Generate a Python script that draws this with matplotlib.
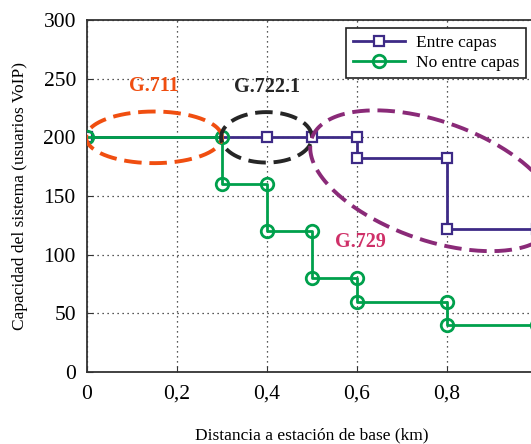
import numpy as np
import matplotlib
matplotlib.use('Agg')
import matplotlib.pyplot as plt

plt.rcParams['font.family'] = ['Liberation Serif', 'DejaVu Serif']

# Capacidad en función de la distancia (km)
dist_entre = [0.0, 0.4, 0.5, 0.6, 0.6, 0.8, 0.8, 1.0]
cap_entre = [200, 200, 200, 200, 182, 182, 122, 122]

dist_no_entre = [0.0, 0.3, 0.3, 0.4, 0.4, 0.5, 0.5, 0.6, 0.6, 0.8, 0.8, 1.0]
cap_no_entre = [200, 200, 160, 160, 120, 120, 80, 80, 60, 60, 40, 40]

x_ticks = [0, 0.2, 0.4, 0.6, 0.8]
x_ticklabels = ['0', '0,2', '0,4', '0,6', '0,8']
y_ticks = [0, 50, 100, 150, 200, 250, 300]

# Zonas de cada códec: (nombre, centro x, centro y, radio x, radio y, desfase)
codec_names = ['G.711', 'G.722.1', 'G.729']
codec_cx = [0.149, 0.399, 0.769]
codec_cy = [200, 200, 163]
codec_rx = [0.151, 0.101, 0.273]
codec_ry = [22, 21.5, 60]
codec_phase = [0, 0, -28]
codec_colors = ['#f04e10', '#262626', '#8a2a78']
label_x = [0.149, 0.40, 0.607]
label_y = [244, 243, 111]
label_colors = ['#f04e10', '#262626', '#cf3068']

fig = plt.figure(figsize=(5.31, 4.44), dpi=100)
ax = fig.add_axes([87 / 531, 72 / 444, 450 / 531, 352 / 444])

ax.plot(dist_entre, cap_entre, color='#3d2a86', lw=2, marker='s', ms=7,
        mfc='white', mec='#3d2a86', mew=1.6, label='Entre capas', zorder=3)
ax.plot(dist_no_entre, cap_no_entre, color='#00a04c', lw=2, marker='o', ms=9,
        mfc='none', mec='#00a04c', mew=2, label='No entre capas', zorder=4)

t = np.linspace(0, 2 * np.pi, 300)
for name, cx, cy, rx, ry, ph, col in zip(codec_names, codec_cx, codec_cy, codec_rx,
                                          codec_ry, codec_phase, codec_colors):
    ex = cx + rx * np.cos(t)
    ey = cy + ry * np.sin(t + np.radians(ph))
    ax.plot(ex, ey, color=col, lw=2.8, ls=(0, (4.5, 2)), zorder=5)

for name, lx, ly, col in zip(codec_names, label_x, label_y, label_colors):
    ax.text(lx, ly, name, color=col, fontsize=14.5, fontweight='bold',
            ha='center', va='center', zorder=6)

ax.set_xlim(0, 1.0)
ax.set_ylim(0, 300)
ax.set_xticks(x_ticks)
ax.set_xticklabels(x_ticklabels)
ax.set_yticks(y_ticks)
ax.tick_params(direction='in', labelsize=15.5, length=4, color='#333333')
ax.tick_params(axis='x', pad=9)
ax.tick_params(axis='y', pad=8)
ax.grid(True, ls=(0, (1, 3)), color='#222222', lw=0.9)
for s in ax.spines.values():
    s.set_linewidth(1.3)
    s.set_color('#333333')

ax.set_xlabel('Distancia a estación de base (km)', fontsize=12.5, labelpad=17)
ax.set_ylabel('Capacidad del sistema (usuarios VoIP)', fontsize=12.5, labelpad=11)

leg = ax.legend(loc='upper right', bbox_to_anchor=(526 / 531, 1 - 28 / 444),
                bbox_transform=fig.transFigure, borderaxespad=0, fontsize=12.5,
                fancybox=False, framealpha=1, edgecolor='#222222',
                handlelength=3.0, handletextpad=0.6, labelspacing=0.2,
                borderpad=0.4)
leg.get_frame().set_linewidth(1.2)

fig.savefig('out.png', dpi=100)
